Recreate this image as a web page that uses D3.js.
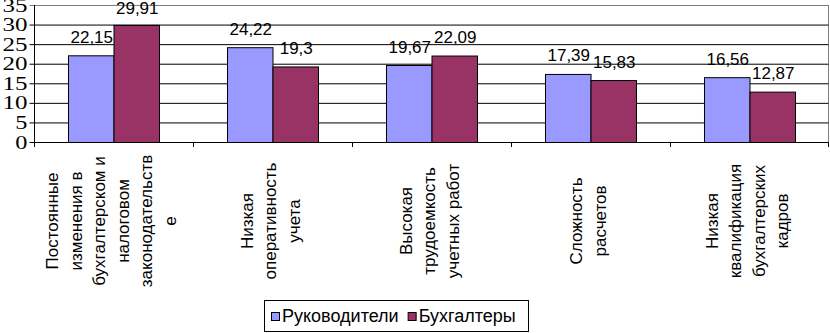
<!DOCTYPE html>
<html><head><meta charset="utf-8">
<script src="https://cdn.jsdelivr.net/npm/d3@7"></script>
<style>body{margin:0;background:#fff;}svg{display:block;}</style>
</head><body>
<script>
const categories = [
  ["Постоянные","изменения в","бухгалтерском и","налоговом","законодательств","е"],
  ["Низкая","оперативность","учета"],
  ["Высокая","трудоемкость","учетных работ"],
  ["Сложность","расчетов"],
  ["Низкая","квалификация","бухгалтерских","кадров"]
];
const seriesNames = ["Руководители","Бухгалтеры"];
const rukovoditeli = [22.15, 24.22, 19.67, 17.39, 16.56];
const bukhgaltery = [29.91, 19.3, 22.09, 15.83, 12.87];
const valueLabels = [["22,15","24,22","19,67","17,39","16,56"],["29,91","19,3","22,09","15,83","12,87"]];
const yTicks = [0,5,10,15,20,25,30,35];
const colors = ["#9999FF","#993366"];

const W=830,H=333;
const pL=34,pR=829,pT=5,pB=142;
const svg=d3.select("body").append("svg").attr("width",W).attr("height",H);
svg.append("rect").attr("width",W).attr("height",H).attr("fill","#fff");

const catIdx=categories.map((c,i)=>i);
const x0=d3.scaleBand().domain(catIdx).range([pL,pR]);
const x1=d3.scaleBand().domain([0,1]).range([0,x0.bandwidth()]).paddingInner(0).paddingOuter(0.747);
const y=d3.scaleLinear().domain([0,35]).range([pB,pT]);

// plot border
svg.append("rect").attr("x",pL+0.5).attr("y",pT+0.5).attr("width",pR-pL-1).attr("height",pB-pT)
  .attr("fill","none").attr("stroke","#808080");

// gridlines + y axis
const yAxis=d3.axisLeft(y).tickValues(yTicks).tickSize(-(pR-pL-1)).tickFormat(d=>d);
const gy=svg.append("g").attr("transform",`translate(${pL+0.5},0)`).call(yAxis);
gy.select(".domain").remove();
gy.selectAll(".tick line").attr("x1",-5)
  .attr("stroke",d=>d===35?"#808080":"#000");
gy.selectAll(".tick text").attr("x",-7).attr("font-family","'Liberation Serif', serif").attr("font-size",18)
  .attr("fill","#000").attr("textLength",25).attr("lengthAdjust","spacingAndGlyphs")
  .attr("dy","0.34em");
gy.selectAll(".tick").filter(d=>d<10).select("text").attr("textLength",null).attr("lengthAdjust",null)
  .attr("transform","scale(1.35,1)").attr("x",-7/1.35);

// bars
const data=[rukovoditeli,bukhgaltery];
const g=svg.append("g");
catIdx.forEach(ci=>{
  [0,1].forEach(si=>{
    const v=data[si][ci];
    const bx=x0(ci)+x1(si);
    g.append("rect").attr("x",bx+0.5).attr("y",y(v)+0.5).attr("width",x1.bandwidth()).attr("height",y(0)-y(v))
      .attr("fill",colors[si]).attr("stroke","#000").attr("stroke-width",1);
    g.append("text").attr("x",bx+x1.bandwidth()/2+1).attr("y",Math.max(y(v)-12.5,13.5))
      .attr("text-anchor","middle").attr("font-family","'Liberation Sans', Arial, sans-serif").attr("font-size",17)
      .attr("fill","#000").text(valueLabels[si][ci]);
  });
});

// axis lines
svg.append("line").attr("x1",pL+0.5).attr("x2",pL+0.5).attr("y1",pT).attr("y2",pB+0.5).attr("stroke","#000");
svg.append("line").attr("x1",pL).attr("x2",pR).attr("y1",pB+0.5).attr("y2",pB+0.5).attr("stroke","#000");
const bounds=catIdx.map(i=>x0(i)).concat([pR-1]);
svg.selectAll(".xt").data(bounds).enter().append("line").attr("x1",d=>Math.round(d)+0.5).attr("x2",d=>Math.round(d)+0.5)
  .attr("y1",pB).attr("y2",pB+5).attr("stroke","#000");

// category labels
catIdx.forEach(ci=>{
  const lines=categories[ci];
  const n=lines.length;
  const cx=x0(ci)+x0.bandwidth()/2;
  const t=svg.append("g").attr("transform",`translate(${cx},221) rotate(-90)`);
  lines.forEach((ln,i)=>{
    t.append("text").attr("x",0).attr("y",(i-(n-1)/2)*23.5+3.5)
      .attr("text-anchor","middle").attr("font-family","'Liberation Sans', Arial, sans-serif").attr("font-size",17)
      .attr("fill","#000").text(ln);
  });
});

// legend
const lg=svg.append("g");
lg.append("rect").attr("x",264.5).attr("y",300.5).attr("width",264).attr("height",31).attr("fill","#fff").attr("stroke","#000");
let lx=271;
seriesNames.forEach((s,i)=>{
  lg.append("rect").attr("x",lx+0.5).attr("y",312.5).attr("width",8).attr("height",8).attr("fill",colors[i]).attr("stroke","#000");
  const tx=lg.append("text").attr("x",lx+11).attr("y",321.5).attr("font-family","'Liberation Sans', Arial, sans-serif")
    .attr("font-size",18).attr("fill","#000").text(s);
  lx=lx+11+tx.node().getComputedTextLength()+9;
});
</script>
</body></html>
